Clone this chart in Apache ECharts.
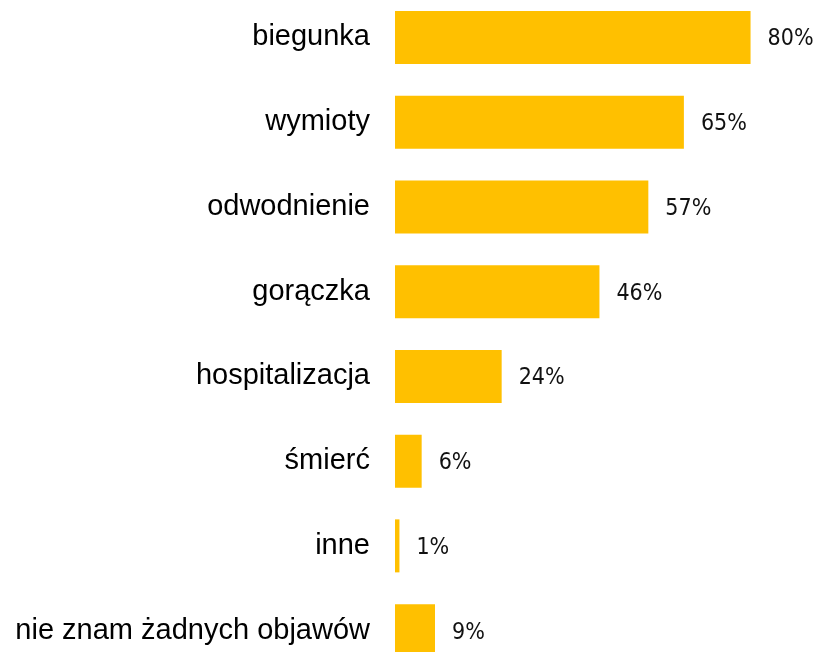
<!DOCTYPE html>
<html>
<head>
<meta charset="utf-8">
<script src="https://cdn.jsdelivr.net/npm/echarts@6/dist/echarts.min.js"></script>
<style>
  html, body { margin: 0; padding: 0; background: #fff; }
  #myChart { width: 813px; height: 652px; }
</style>
</head>
<body>
<div id="myChart"></div>
<script>
// kategorie (od góry do dołu)
var categories = ['biegunka', 'wymioty', 'odwodnienie', 'gorączka', 'hospitalizacja', 'śmierć', 'inne', 'nie znam żadnych objawów'];
// odsetek odpowiedzi
var values = [80, 65, 57, 46, 24, 6, 1, 9];

var option = {
  animation: false,
  grid: {
    left: 395,
    top: -5,
    width: 400,
    height: 678,
    outerBoundsMode: 'none'
  },
  xAxis: {
    type: 'value',
    min: 0,
    max: 90,
    show: false
  },
  yAxis: {
    type: 'category',
    inverse: true,
    data: categories,
    axisLine: { show: false },
    axisTick: { show: false },
    axisLabel: {
      margin: 25,
      color: '#000',
      fontFamily: 'Liberation Sans, Arial, sans-serif',
      fontSize: 29
    }
  },
  series: [
    {
      type: 'bar',
      data: values,
      barWidth: 53,
      itemStyle: { color: '#FFC000' },
      label: {
        show: true,
        position: 'right',
        distance: 17,
        offset: [0, 2],
        formatter: '{c}%',
        color: '#111',
        fontFamily: 'Liberation Sans Narrow, DejaVu Sans Condensed, sans-serif',
        fontSize: 23
      }
    }
  ]
};

var myChart = echarts.init(document.getElementById('myChart'));
myChart.setOption(option);
</script>
</body>
</html>
